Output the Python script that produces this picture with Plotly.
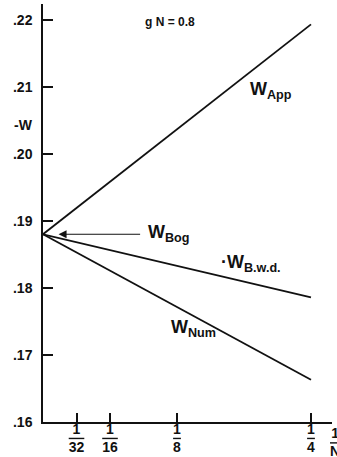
import plotly.graph_objects as go

# Data
x_inv_n = [0, 0.25]
w_app = [0.188, 0.2193]
w_bwd = [0.188, 0.1786]
w_num = [0.188, 0.1663]
w_bog = 0.188

x_tickvals = [1/32, 1/16, 1/8, 1/4]
x_denoms = ["32", "16", "8", "4"]
y_tickvals = [0.16, 0.17, 0.18, 0.19, 0.20, 0.21, 0.22]
y_ticktext = [".16", ".17", ".18", ".19", ".20", ".21", ".22"]

FONT = "Liberation Sans"
INK = "#111111"

fig = go.Figure()
for ys in (w_app, w_bwd, w_num):
    fig.add_trace(go.Scatter(x=x_inv_n, y=ys, mode="lines",
                             line=dict(color=INK, width=1.8),
                             showlegend=False, hoverinfo="skip"))

x_ticktext = ["1<br><span style='text-decoration:overline'>%s</span>" % d for d in x_denoms]

fig.update_layout(
    width=337, height=457,
    margin=dict(l=43, r=5, t=4, b=35, autoexpand=False),
    paper_bgcolor="white", plot_bgcolor="white",
    font=dict(family=FONT, color=INK, size=14),
    xaxis=dict(range=[0, 0.2696], tickvals=x_tickvals, ticktext=x_ticktext,
               ticks="inside", ticklen=9, tickwidth=1.5, tickcolor=INK,
               showline=True, linecolor=INK, linewidth=1.5,
               showgrid=False, zeroline=False, automargin=False,
               ticklabelstandoff=-7,
               tickfont=dict(family=FONT, size=14, color=INK, weight="bold")),
    yaxis=dict(range=[0.16, 0.22234], tickvals=y_tickvals, ticktext=y_ticktext,
               ticks="inside", ticklen=10, tickwidth=1.5, tickcolor=INK,
               showline=True, linecolor=INK, linewidth=1.5,
               showgrid=False, zeroline=False, ticklabelstandoff=6, automargin=False,
               tickfont=dict(family=FONT, size=14, color=INK, weight="bold")),
)

lab_font = dict(family=FONT, size=18, color=INK, weight="bold")

def label(x, y, text):
    fig.add_annotation(x=x, y=y, xref="x", yref="y", text=text, showarrow=False,
                       xanchor="left", yanchor="middle", font=lab_font)

label(0.1915, 0.2095, "W<sub>App</sub>")
label(0.1645, 0.1836, "·W<sub>B.w.d.</sub>")
label(0.1178, 0.1740, "W<sub>Num</sub>")
label(0.0964, 0.1881, "W<sub>Bog</sub>")

# W_Bog arrow
fig.add_annotation(x=0.0145, y=w_bog, ax=0.092, ay=w_bog, xref="x", yref="y",
                   axref="x", ayref="y", text="", showarrow=True,
                   arrowhead=2, arrowsize=1.6, arrowwidth=1, arrowcolor=INK)

# g N = 0.8
fig.add_annotation(x=0.1188, y=0.2197, xref="x", yref="y", text="g N = 0.8",
                   showarrow=False, xanchor="center", yanchor="middle",
                   font=dict(family=FONT, size=12, color=INK, weight="bold"))

# -W axis label
fig.add_annotation(x=-0.068, y=0.2043, xref="paper", yref="y", text="-W",
                   showarrow=False, xanchor="center", yanchor="middle",
                   font=dict(family=FONT, size=14, color=INK, weight="bold"))

# 1/N axis label at right edge
fig.add_annotation(x=1.0104, y=0, xref="paper", yref="paper",
                   text="1<br><span style='text-decoration:overline'>N</span>",
                   showarrow=False, xanchor="center", yanchor="top", yshift=-1,
                   font=dict(family=FONT, size=14, color=INK, weight="bold"))

fig.write_html("out.html", config={"displayModeBar": False},
               post_script="document.body.style.margin='0';document.body.style.overflow='hidden';")
